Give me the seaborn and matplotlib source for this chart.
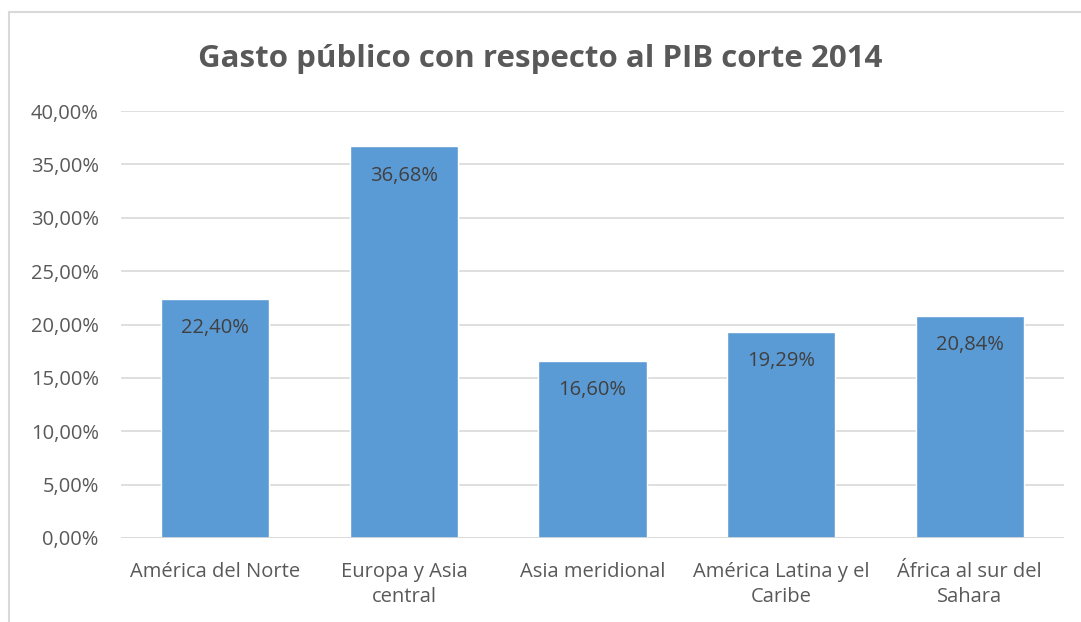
import matplotlib
matplotlib.use("Agg")
import matplotlib.pyplot as plt
import matplotlib.patches as mpatches
import seaborn as sns
import pandas as pd
from matplotlib.ticker import FuncFormatter

categories = ["América del Norte", "Europa y Asia\ncentral", "Asia meridional",
              "América Latina y el\nCaribe", "África al sur del\nSahara"]
values = [22.40, 36.68, 16.60, 19.29, 20.84]
yticks = [0, 5, 10, 15, 20, 25, 30, 35, 40]
title = "Gasto público con respecto al PIB corte 2014"

sns.set_theme(style="white")
plt.rcParams['font.family'] = ['Open Sans', 'DejaVu Sans']

df = pd.DataFrame({"cat": categories, "val": values})

fig = plt.figure(figsize=(10.81, 6.22), dpi=100)
ax = fig.add_axes([121/1081, 1 - 538/622, (1064-121)/1081, (538-111)/622])

sns.barplot(data=df, x="cat", y="val", color="#5B9BD5", saturation=1,
            width=0.573, ax=ax, zorder=3)

ax.set_ylim(0, 40)
ax.set_yticks(yticks)
ax.yaxis.set_major_formatter(FuncFormatter(lambda v, p: f"{v:.2f}".replace(".", ",") + "%"))
ax.grid(axis="y", color="#d9d9d9", linewidth=1.2, zorder=0)
for s in ax.spines.values():
    s.set_visible(False)
ax.axhline(0, color="#d9d9d9", linewidth=1.2, zorder=4)
ax.set_xlabel("")
ax.set_ylabel("")
ax.tick_params(axis="y", colors="#595959", labelsize=14.5, length=0, pad=16)
ax.tick_params(axis="x", colors="#595959", labelsize=14.5, length=0, pad=17)
for lab in ax.get_xticklabels():
    lab.set_linespacing(1.35)

for i, v in enumerate(values):
    ax.annotate(f"{v:.2f}".replace(".", ",") + "%", xy=(i, v), xytext=(0, -21),
                textcoords="offset points", ha="center", va="center",
                fontsize=14.5, color="#404040", zorder=5)

fig.text(0.5, 1 - 59/622, title, ha="center", va="center", fontsize=22.5,
         fontweight="bold", color="#595959")

fig.patches.append(mpatches.Rectangle((9/1081, -0.1), 1.2, 0.1 + 1 - 12/622,
                                      transform=fig.transFigure, fill=False,
                                      edgecolor="#d9d9d9", linewidth=1.5))

fig.savefig("out.png", dpi=100, facecolor="white")
